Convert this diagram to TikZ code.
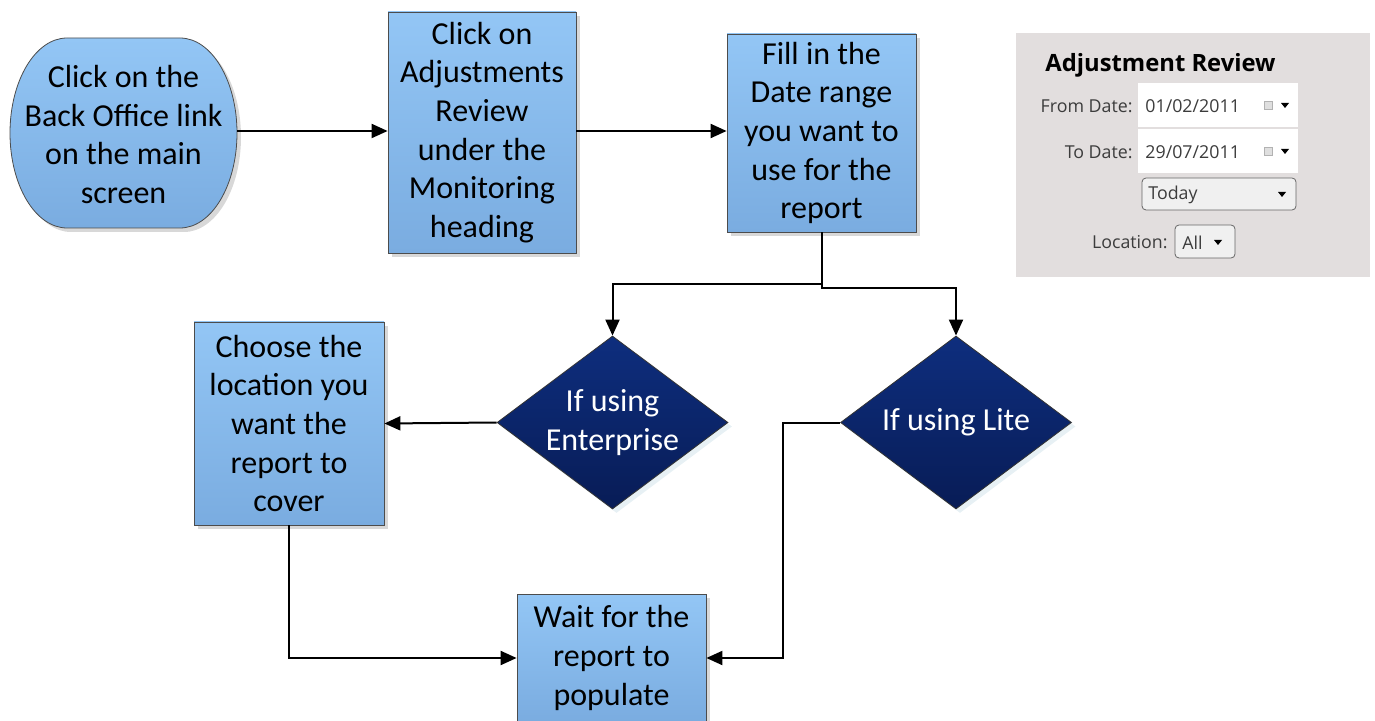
\documentclass[tikz,border=0pt]{standalone}
\usepackage{fontspec}
\setmainfont{Carlito}
\newfontfamily\uifont{Open Sans}
\usetikzlibrary{arrows.meta,shapes.geometric,shadows}
\definecolor{stepblue}{RGB}{147,198,245}
\definecolor{stepbluedark}{RGB}{122,172,224}
\definecolor{decnavy}{RGB}{14,46,126}
\definecolor{decnavydark}{RGB}{8,28,86}
\definecolor{panelgray}{RGB}{226,222,222}
\definecolor{uitext}{RGB}{60,60,60}

\begin{document}
\begin{tikzpicture}[x=0.5pt,y=-0.5pt,
    every node/.style={font=\fontsize{16}{19.3}\selectfont, align=center},
    stepfill/.style={draw=gray!60!black, thin,
        top color=stepblue, bottom color=stepbluedark,
        drop shadow={shadow xshift=2pt, shadow yshift=-2pt, fill=gray!60}},
    stepbox/.style={rectangle, stepfill, inner sep=0pt},
    decision/.style={diamond, aspect=1.335, inner sep=0pt, draw=black!80, thin,
        top color=decnavy, bottom color=decnavydark, text=white,
        drop shadow={shadow xshift=2pt, shadow yshift=-2pt, fill=gray!60!cyan!30}},
    flow/.style={-{Triangle[length=8pt,width=7pt]}, line width=1pt},
    uilabel/.style={font=\uifont\fontsize{8.9}{10}\selectfont, text=uitext, inner sep=0pt},
    uicombo/.style={draw=gray!80!black, fill=gray!12, rounded corners=2pt}
]
\useasboundingbox (0,0) rectangle (1375,721);

% Flow steps
\path[stepfill] (67,38) -- (180,38)
    arc[start angle=90, end angle=-90, x radius=28.5pt, y radius=47.5pt]
    -- (67,228)
    arc[start angle=270, end angle=90, x radius=28.5pt, y radius=47.5pt] -- cycle;
\node[inner sep=0pt, minimum width=113.5pt, minimum height=95pt] (back) at (123.5,134.5)
    {Click on the\\Back Office link\\on the main\\screen};
\node[stepbox, minimum width=94pt, minimum height=120.5pt] (adjust) at (482,132.5)
    {Click on\\Adjustments\\Review\\under the\\Monitoring\\heading};
\node[stepbox, minimum width=94.5pt, minimum height=99pt] (dates) at (821.5,133)
    {Fill in the\\Date range\\you want to\\use for the\\report};
\node[decision, minimum width=115.5pt, minimum height=86.5pt] (enterprise) at (612.5,422.5)
    {If using\\Enterprise};
\node[decision, minimum width=115.5pt, minimum height=86.5pt] (lite) at (956,422.5)
    {If using Lite};
\node[stepbox, minimum width=95pt, minimum height=101.5pt] (location) at (289,423.5)
    {Choose the\\location you\\want the\\report to\\cover};
\node[stepbox, minimum width=94.5pt, minimum height=64pt] (wait) at (611.5,658)
    {Wait for the\\report to\\populate};

% Connectors
\draw[flow] (back.east |- 0,131) -- (adjust.west |- 0,131);
\draw[flow] (adjust.east |- 0,131) -- (dates.west |- 0,131);
\draw[flow] (dates.south) -- ++(0,52) -| (enterprise.north);
\draw[flow] (dates.south) -- ++(0,56) -| (lite.north);
\draw[flow] (enterprise.west) -- (location.east);
\draw[flow] (location.south) |- (wait.west);
\draw[flow] (lite.west) -- ++(-57,0) |- (wait.east);

% Screen capture of the report options
\fill[panelgray] (1016,33) rectangle (1370,277);
\node[anchor=west, inner sep=0pt, font=\uifont\bfseries\fontsize{11.9}{14}\selectfont] (title) at (1045,65) {Adjustment Review};
\fill[white] (1138,83) rectangle (1298,127);
\fill[white] (1138,129) rectangle (1298,173);
\node[uilabel, anchor=east] (fromlbl) at (1133,106) {From Date:};
\node[uilabel, anchor=east] (tolbl) at (1133,152) {To Date:};
\node[uilabel, anchor=west] (fromval) at (1145,106) {01/02/2011};
\node[uilabel, anchor=west] (toval) at (1145,152) {29/07/2011};
\foreach \y in {105,151} {
    \draw[gray!60, fill=gray!25] (1264,\y-4) rectangle (1272,\y+4);
    \fill (1281,\y-2) -- (1289,\y-2) -- (1285,\y+3) -- cycle;
}
\draw[uicombo] (1142,178) rectangle (1296,210);
\node[uilabel, anchor=west] (today) at (1148,195) {Today};
\fill (1278,192) -- (1286,192) -- (1282,197) -- cycle;
\node[uilabel, anchor=east] (loclbl) at (1168,242) {Location:};
\draw[uicombo] (1175,225) rectangle (1235,258);
\node[uilabel, anchor=west] (all) at (1182,243) {All};
\fill (1214,240) -- (1222,240) -- (1218,245) -- cycle;
\end{tikzpicture}
\end{document}
